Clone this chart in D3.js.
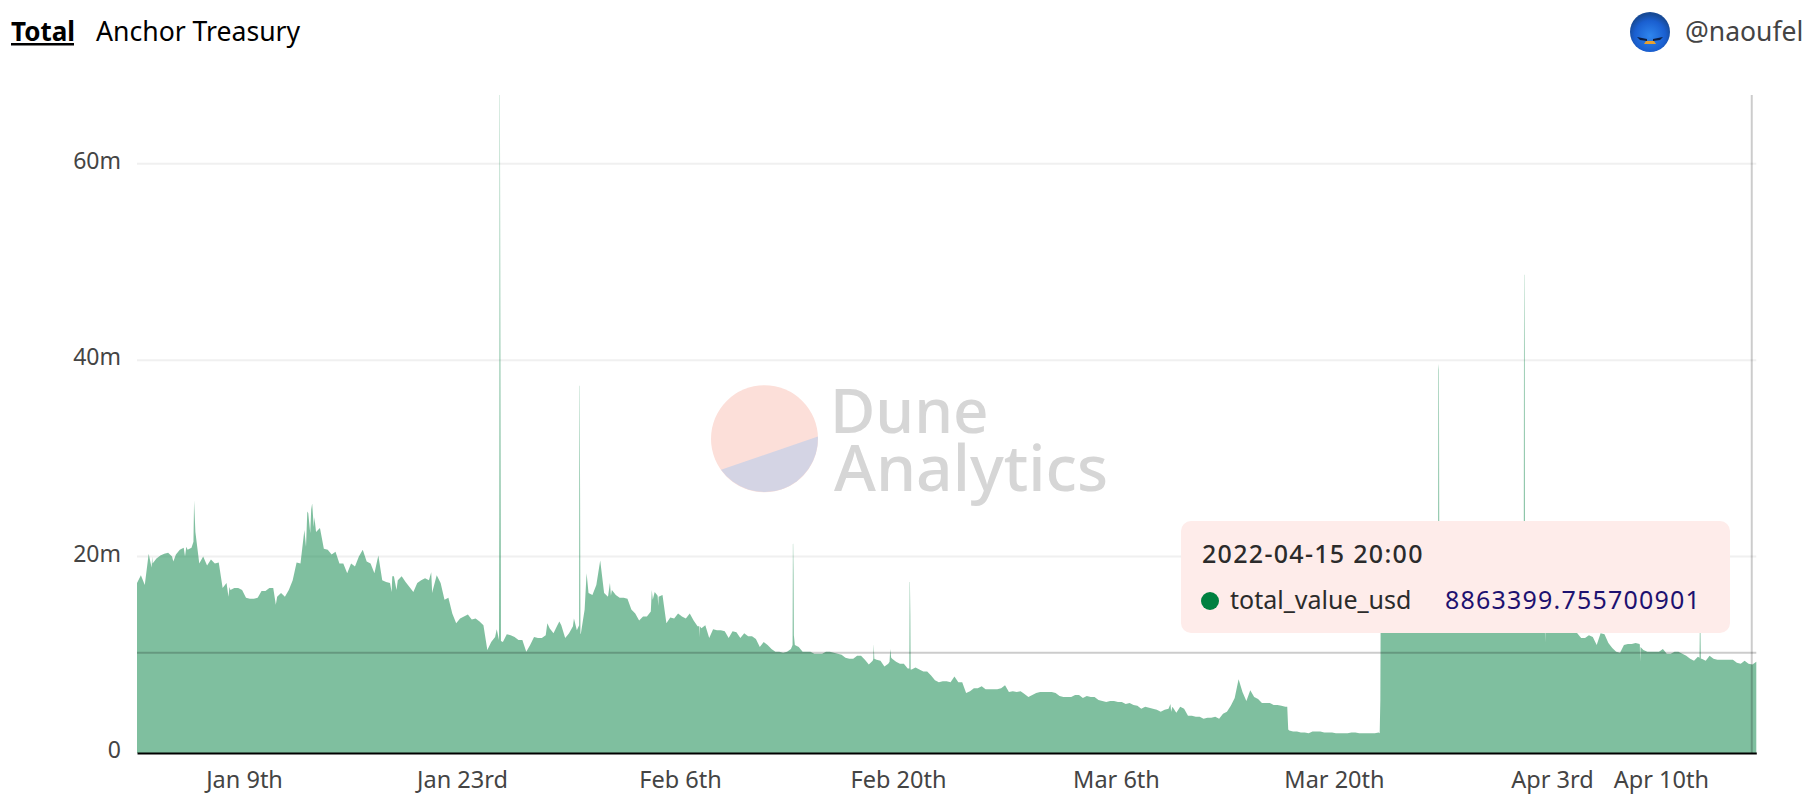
<!DOCTYPE html>
<html>
<head>
<meta charset="utf-8">
<script src="https://cdn.jsdelivr.net/npm/d3@7"></script>
<style>
  body { margin: 0; background: #fff; }
  text { font-family: "Noto Sans", sans-serif; }
</style>
</head>
<body>
<svg id="chart" width="1812" height="801"></svg>
<script>
// values in millions of usd, one reading every 6 hours from the start date
var startDate = new Date(Date.UTC(2022, 0, 2, 3))
var endDate = new Date(Date.UTC(2022, 3, 16, 3))

var totalValueM = [
  17.3,18.1,17.1,20.3,19.3,19.8,20.1,20.3,20.4,20.0,
  20.2,20.7,20.9,20.7,20.9,22.5,19.3,20.0,19.1,19.7,
  19.3,19.4,16.8,17.3,16.6,16.8,16.8,16.6,15.8,15.7,
  15.7,15.8,16.5,16.5,16.8,16.8,15.9,16.3,15.9,16.6,
  17.6,19.4,19.3,22.7,24.4,25.4,22.5,22.9,20.8,20.7,
  20.2,20.5,19.3,19.3,18.3,19.3,19.0,20.0,20.7,19.5,
  19.3,18.3,20.1,17.6,17.4,17.3,18.0,17.6,18.0,17.4,
  16.9,16.4,17.3,17.6,17.8,17.6,16.6,18.1,17.3,15.6,
  15.8,14.2,13.2,13.7,13.9,14.1,13.6,13.7,13.4,13.0,
  10.5,11.3,11.8,11.5,11.3,12.1,12.0,11.8,11.5,11.5,
  10.3,11.0,11.8,11.7,11.7,12.0,12.7,12.2,13.0,13.0,
  11.7,12.2,12.9,12.5,12.1,14.6,16.3,16.1,17.1,19.6,
  16.3,15.9,16.6,16.1,15.8,15.8,15.7,14.6,14.2,13.5,
  13.9,13.9,14.4,16.4,15.9,16.1,13.2,13.8,13.7,14.2,
  13.9,13.7,14.2,13.5,12.9,12.7,13.0,11.7,12.6,12.5,
  12.5,12.4,11.7,12.4,12.3,11.7,12.2,11.9,11.9,11.6,
  10.8,11.3,11.0,10.6,10.3,10.3,10.2,10.3,10.6,11.0,
  10.8,10.3,10.3,10.3,10.1,10.1,10.1,10.3,10.3,10.2,
  10.1,10.0,9.7,9.6,9.6,9.9,9.9,9.5,9.0,9.4,
  9.5,9.4,8.8,9.1,9.6,9.3,9.1,9.1,8.6,8.5,
  8.7,8.5,8.3,8.3,7.9,7.4,7.2,7.3,7.3,7.2,
  7.8,7.2,7.2,6.1,6.3,6.6,6.6,6.8,6.5,6.5,
  6.5,6.5,6.6,6.9,6.2,6.3,6.2,6.3,6.0,5.7,
  5.9,6.1,6.2,6.2,6.2,6.2,6.1,5.8,5.7,5.7,
  5.7,5.9,5.9,5.6,5.8,5.7,5.7,5.4,5.3,5.2,
  5.3,5.3,5.2,5.2,5.0,5.1,4.9,4.8,4.5,4.7,
  4.6,4.5,4.4,4.2,4.4,4.5,4.7,4.1,4.7,4.5,
  3.8,3.8,3.7,3.7,3.5,3.6,3.6,3.7,3.5,4.0,
  4.2,4.8,5.6,7.5,6.2,5.3,6.4,5.7,5.5,5.1,
  5.1,5.1,4.9,4.9,4.8,4.7,2.3,2.2,2.2,2.1,
  2.1,2.0,2.2,2.2,2.2,2.1,2.1,2.1,2.0,2.0,
  2.0,2.0,2.1,2.1,2.0,2.0,2.0,2.0,2.0,2.1,
  14.9,15.0,15.2,15.1,15.3,15.0,14.8,15.1,15.4,15.6,
  15.3,15.2,15.0,14.9,15.1,15.2,15.0,14.8,14.6,14.5,
  14.6,14.8,14.7,14.5,14.4,14.2,14.3,14.5,14.4,14.1,
  14.0,13.9,13.8,14.0,13.9,13.7,13.6,13.4,13.5,13.4,
  13.2,13.1,13.0,13.2,13.3,13.1,13.2,13.0,12.9,12.8,
  12.2,11.7,11.7,12.0,11.8,11.0,12.2,12.1,11.2,10.7,
  10.3,10.2,11.0,11.1,11.1,11.2,11.1,10.5,10.3,10.3,
  10.3,10.3,10.6,10.1,10.1,10.3,10.3,10.1,9.9,9.6,
  9.4,9.8,9.6,9.4,9.9,9.6,9.5,9.5,9.5,9.5,
  9.5,9.2,9.1,9.4,9.1,9.0,9.3
]

// short spikes and dips between the 6 hour readings (hours after startDate)
var spikeHours = [
  87, 88,
  558.5, 559, 559.4, 560, 561,
  681.5, 682, 682.4, 683, 683.5,
  693,
  866.5, 867, 867.5,
  1010.5, 1011, 1011.4, 1012, 1012.5,
  1135, 1135.5, 1136.5,
  1160, 1161, 1162.5,
  1190.5, 1191, 1191.4, 1192, 1192.5,
  1773, 1774.5,
  1915.5, 1916.5, 1917,
  2005.5, 2006, 2006.8, 2007.5,
  2137.5, 2138, 2138.4, 2139, 2139.5,
  2170, 2170.5, 2171,
  2316.5, 2317, 2317.5,
  2408.5, 2409, 2409.8, 2410.5
]
var spikeValuesM = [
  21.5, 25.7,
  24.2, 67, 67, 45.6, 11.4,
  13, 37.4, 37.4, 25.4, 12.2,
  18.3,
  12.9, 11.8, 12.9,
  11, 21.3, 21.3, 18.3, 12,
  9.6, 11.1, 9.6,
  9.3, 10.6, 9.7,
  8.6, 17.4, 17.4, 14.2, 8.5,
  4.7, 2.4,
  2, 5.4, 14.8,
  15.1, 39.6, 39, 15,
  13.6, 48.7, 48.7, 41, 13.5,
  13, 11.3, 13,
  11, 9.3, 10.8,
  9.7, 13, 13, 9.6
]

// smaller teeth of the outline
var toothHours = [
  22.5, 23.5, 56, 74, 76, 141, 142.5, 214, 260.5, 262.5,
  267, 268.5, 272.5, 273.5, 392.5, 393.5, 400, 453.5, 455, 554.5,
  632.5, 651, 673.5, 729, 730.5, 793.5, 795, 802.5, 803.5, 1593, 1594
]
var toothValuesM = [
  18.9, 20.0, 19.5, 20.0, 21.0, 15.9, 16.9, 15.1, 21.0, 24.6,
  22.4, 24.8, 23.0, 24.0, 16.4, 18.0, 16.6, 18.4, 16.3, 12.6,
  13.2, 13.4, 13.7, 17.3, 16.0, 16.6, 15.6, 16.0, 15.0, 5.0, 4.2
]

var yTicks = [0, 20, 40, 60]
var xTickDates = [
  Date.UTC(2022, 0, 9), Date.UTC(2022, 0, 23), Date.UTC(2022, 1, 6), Date.UTC(2022, 1, 20),
  Date.UTC(2022, 2, 6), Date.UTC(2022, 2, 20), Date.UTC(2022, 3, 3), Date.UTC(2022, 3, 10)
]
var xTickLabels = ["Jan 9th", "Jan 23rd", "Feb 6th", "Feb 20th", "Mar 6th", "Mar 20th", "Apr 3rd", "Apr 10th"]

var hoverTime = Date.UTC(2022, 3, 15, 20)
var hoverLevelM = 10.2
var hoverTitle = "2022-04-15 20:00"
var hoverSeries = "total_value_usd"
var hoverValue = "8863399.755700901"

var green = "#008040"

var svg = d3.select("#chart")

var plotLeft = 137, plotRight = 1756.3, plotTop = 95, plotBottom = 753

var x = d3.scaleUtc().domain([startDate, endDate]).range([plotLeft, plotRight])
var y = d3.scaleLinear().domain([0, 67]).range([plotBottom, plotTop])

var times = d3.utcHour.range(startDate, new Date(+endDate + 1), 6)
var points = times.map(function(t, i) { return { t: t, v: totalValueM[i] } })
spikeHours.forEach(function(h, i) {
  points.push({ t: new Date(+startDate + h * 3600000), v: spikeValuesM[i] })
})
toothHours.forEach(function(h, i) {
  points.push({ t: new Date(+startDate + h * 3600000), v: toothValuesM[i] })
})
points.sort(function(a, b) { return a.t - b.t })

// grid
svg.append("g").selectAll("line")
  .data(yTicks.slice(1))
  .enter().append("line")
  .attr("x1", plotLeft).attr("x2", plotRight)
  .attr("y1", function(d) { return y(d) })
  .attr("y2", function(d) { return y(d) })
  .attr("stroke", "#f0f0f0")
  .attr("stroke-width", 2)

// watermark
var mark = svg.append("g")
mark.append("circle").attr("cx", 764.5).attr("cy", 438.8).attr("r", 53.5).attr("fill", "#fcdfd9")
mark.append("path").attr("d", "M817.9 436.5A53.5 53.5 0 0 1 721 469.8Z").attr("fill", "#d4d4e4")
mark.append("text").attr("x", 830).attr("y", 433).attr("font-size", 62).attr("font-weight", 500).attr("fill", "#d6d6d6").text("Dune")
mark.append("text").attr("x", 834).attr("y", 491).attr("font-size", 64).attr("font-weight", 500).attr("fill", "#d6d6d6").text("Analytics")

// area
var area = d3.area()
  .x(function(d) { return x(d.t) })
  .y0(y(0))
  .y1(function(d) { return y(d.v) })

svg.append("path")
  .datum(points)
  .attr("d", area)
  .attr("fill", green)
  .attr("fill-opacity", 0.5)

// axes
var xAxis = d3.axisBottom(x)
  .tickValues(xTickDates)
  .tickFormat(function(d, i) { return xTickLabels[i] })
  .tickSize(0)
  .tickPadding(18)

var gx = svg.append("g").attr("transform", "translate(0," + plotBottom + ")").call(xAxis)
gx.select(".domain").attr("stroke", "#000").attr("stroke-width", 2)
gx.selectAll("text").attr("font-size", 23.5).attr("fill", "#444").style("font-family", "'Noto Sans'")

var yAxis = d3.axisLeft(y)
  .tickValues(yTicks)
  .tickFormat(function(d) { return d == 0 ? "0" : d + "m" })
  .tickSize(0)
  .tickPadding(16)

var gy = svg.append("g").attr("transform", "translate(" + plotLeft + ",0)").call(yAxis)
gy.select(".domain").remove()
gy.selectAll("text").attr("font-size", 23).attr("fill", "#444").attr("dy", "0.2em").style("font-family", "'Noto Sans'")

// crosshair
svg.append("line")
  .attr("x1", plotLeft).attr("x2", plotRight)
  .attr("y1", y(hoverLevelM)).attr("y2", y(hoverLevelM))
  .attr("stroke", "#000").attr("stroke-opacity", 0.2).attr("stroke-width", 2)
svg.append("line")
  .attr("x1", x(hoverTime)).attr("x2", x(hoverTime))
  .attr("y1", plotTop).attr("y2", plotBottom)
  .attr("stroke", "#000").attr("stroke-opacity", 0.2).attr("stroke-width", 2)

// header
svg.append("text").attr("x", 11).attr("y", 41).attr("font-size", 26).attr("font-weight", 700).attr("fill", "#000").text("Total")
svg.append("rect").attr("x", 11).attr("y", 43).attr("width", 63).attr("height", 2.5).attr("fill", "#000")
svg.append("text").attr("x", 96).attr("y", 41).attr("font-size", 26.6).attr("fill", "#000").text("Anchor Treasury")
svg.append("text").attr("x", 1685).attr("y", 41).attr("font-size", 26.5).attr("fill", "#444").text("@naoufel")

// avatar
var defs = svg.append("defs")
var grad = defs.append("radialGradient").attr("id", "bird").attr("cy", "0.6").attr("r", "0.55")
grad.append("stop").attr("offset", "0").attr("stop-color", "#2f86ee")
grad.append("stop").attr("offset", "0.7").attr("stop-color", "#1a5fd0")
grad.append("stop").attr("offset", "1").attr("stop-color", "#174a96")
var avatar = svg.append("g").attr("transform", "translate(1650,32)")
avatar.append("circle").attr("r", 20).attr("fill", "url(#bird)")
avatar.append("path").attr("d", "M-13 5L-3 7L-3 9L-10 8Z").attr("fill", "#0c1e44")
avatar.append("path").attr("d", "M13 5L3 7L3 9L10 8Z").attr("fill", "#0c1e44")
avatar.append("path").attr("d", "M-4 9L4 9L6 12L-6 12Z").attr("fill", "#e8a030")

// tooltip
var tip = svg.append("g")
tip.append("rect").attr("x", 1181).attr("y", 521).attr("width", 549).attr("height", 112).attr("rx", 10).attr("fill", "#feecea")
tip.append("text").attr("x", 1202).attr("y", 563).attr("font-size", 25).attr("font-weight", 500).attr("letter-spacing", 1.3).attr("fill", "#2b2b2b").text(hoverTitle)
tip.append("circle").attr("cx", 1210).attr("cy", 601).attr("r", 9).attr("fill", green)
tip.append("text").attr("x", 1230).attr("y", 609).attr("font-size", 25).attr("fill", "#2b2b2b").text(hoverSeries)
tip.append("text").attr("x", 1445).attr("y", 609).attr("font-size", 25).attr("letter-spacing", 1.2).attr("fill", "#1d1170").text(hoverValue)
</script>
</body>
</html>
